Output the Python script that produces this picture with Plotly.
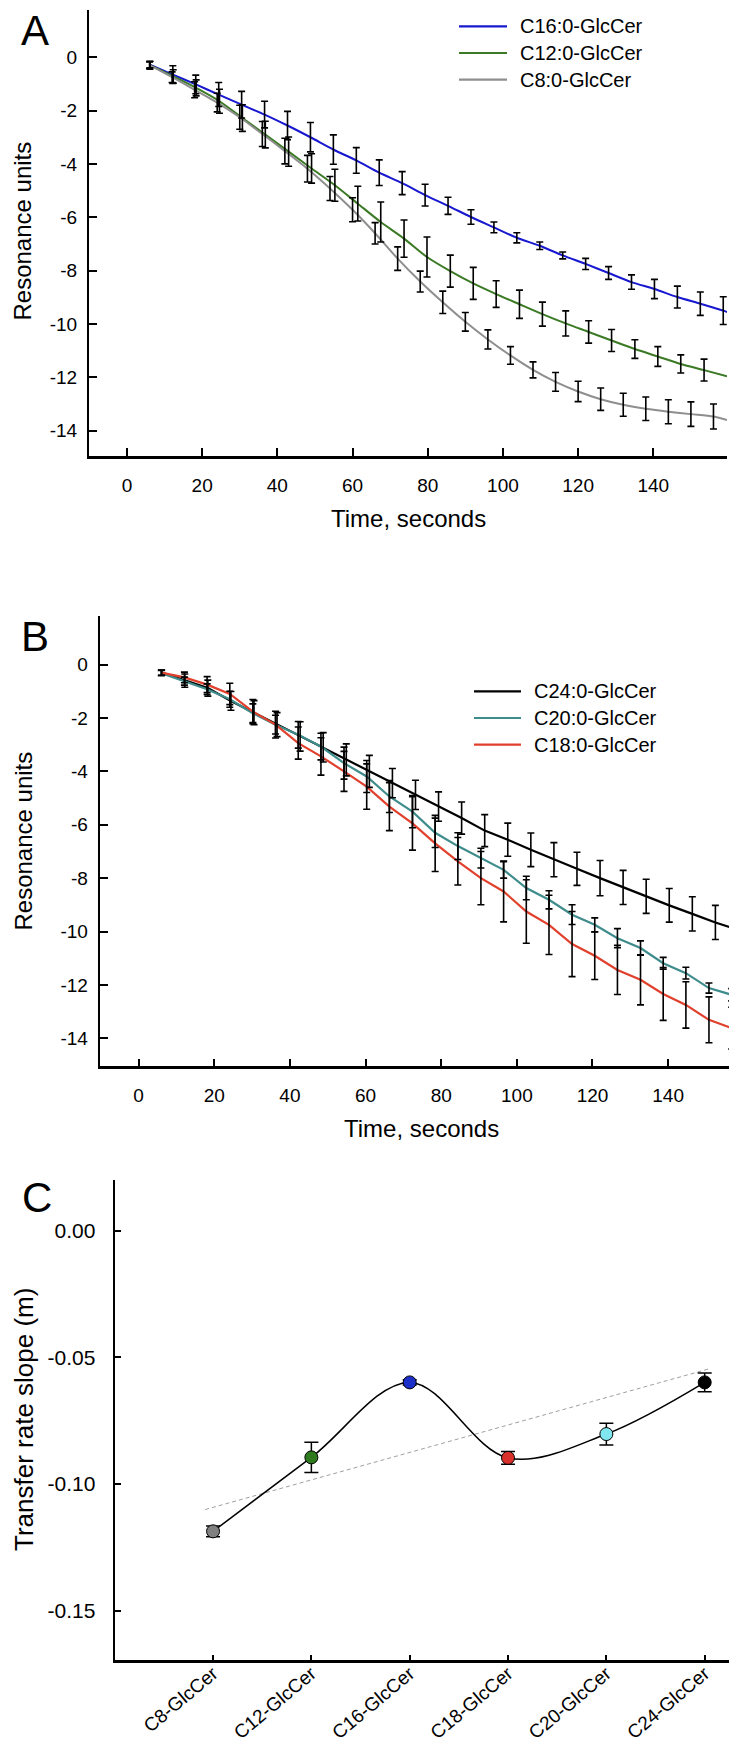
import plotly.graph_objects as go

W, H = 737, 1746
FONT = "Liberation Sans, Arial, sans-serif"

# ---------------- Panel A data ----------------
a_c16_t = [6.1, 12.2, 18.3, 24.4, 30.5, 36.6, 42.7, 48.8, 54.9, 61.0, 67.1, 73.2, 79.3,
           85.4, 91.5, 97.6, 103.7, 109.8, 115.9, 122.0, 128.1, 134.2, 140.3, 146.4, 152.5, 158.6]
a_c16_v = [-0.28, -0.65, -1.02, -1.40, -1.78, -2.15, -2.56, -3.00, -3.46, -3.87, -4.33, -4.72, -5.17,
           -5.57, -5.99, -6.38, -6.77, -7.07, -7.43, -7.75, -8.09, -8.43, -8.69, -8.99, -9.24, -9.50]
a_c16_e = [0.12, 0.33, 0.35, 0.45, 0.50, 0.50, 0.53, 0.55, 0.55, 0.48, 0.48, 0.43, 0.41,
           0.32, 0.27, 0.20, 0.19, 0.14, 0.13, 0.21, 0.24, 0.27, 0.36, 0.41, 0.44, 0.52]
a_c16_end = (159.6, -9.55)

a_c12_t = [6.1, 12.3, 18.4, 24.6, 30.7, 36.8, 43.0, 49.1, 55.3, 61.4, 67.5, 73.7, 79.8,
           86.0, 92.1, 98.2, 104.4, 110.5, 116.7, 122.8, 128.9, 135.1, 141.2, 147.3, 153.5]
a_c12_v = [-0.30, -0.72, -1.15, -1.65, -2.28, -2.90, -3.54, -4.17, -4.80, -5.49, -6.18, -6.80, -7.49,
           -8.02, -8.48, -8.88, -9.26, -9.63, -9.98, -10.30, -10.62, -10.94, -11.22, -11.50, -11.73]
a_c12_e = [0.15, 0.25, 0.30, 0.45, 0.50, 0.50, 0.55, 0.55, 0.60, 0.65, 0.75, 0.70, 0.75,
           0.60, 0.60, 0.50, 0.53, 0.45, 0.47, 0.42, 0.41, 0.35, 0.37, 0.34, 0.41]
a_c12_end = (159.6, -11.96)

a_c8_t = [6, 12, 18, 24, 30, 36, 42, 48, 54, 60, 66, 72, 78,
          84, 90, 96, 102, 108, 114, 120, 126, 132, 138, 144, 150, 156]
a_c8_v = [-0.30, -0.75, -1.22, -1.70, -2.25, -2.88, -3.52, -4.18, -4.92, -5.72, -6.60, -7.55, -8.41,
          -9.19, -9.92, -10.58, -11.18, -11.72, -12.17, -12.53, -12.82, -13.03, -13.18, -13.29, -13.38, -13.47]
a_c8_e = [0.12, 0.20, 0.30, 0.35, 0.45, 0.47, 0.48, 0.50, 0.45, 0.45, 0.40, 0.44, 0.39,
          0.42, 0.35, 0.36, 0.33, 0.30, 0.35, 0.38, 0.42, 0.43, 0.44, 0.45, 0.46, 0.47]
a_c8_end = (159.6, -13.60)

# ---------------- Panel B data ----------------
b_c24_t = [6.1, 12.2, 18.3, 24.4, 30.5, 36.6, 42.7, 48.8, 54.9, 61.0, 67.1, 73.2, 79.3,
           85.4, 91.5, 97.6, 103.7, 109.8, 115.9, 122.0, 128.1, 134.2, 140.3, 146.4, 152.5, 158.6]
b_c24_v = [-0.30, -0.60, -0.88, -1.36, -1.80, -2.25, -2.69, -3.10, -3.57, -4.00, -4.44, -4.88, -5.32,
           -5.75, -6.22, -6.56, -6.94, -7.31, -7.65, -8.00, -8.35, -8.68, -9.02, -9.34, -9.66, -9.94]
b_c24_e = [0.10, 0.25, 0.30, 0.35, 0.45, 0.45, 0.55, 0.55, 0.60, 0.60, 0.55, 0.55, 0.55,
           0.60, 0.60, 0.62, 0.63, 0.64, 0.62, 0.66, 0.64, 0.64, 0.63, 0.64, 0.64, 0.66]
b_c24_end = (159.8, -10.00)

b_c20_t = [6.0, 12.1, 18.1, 24.1, 30.2, 36.2, 42.2, 48.2, 54.3, 60.3, 66.3, 72.4, 78.4,
           84.4, 90.5, 96.5, 102.5, 108.5, 114.6, 120.6, 126.6, 132.7, 138.7, 144.7, 150.8, 156.8]
b_c20_v = [-0.32, -0.62, -0.92, -1.30, -1.82, -2.25, -2.63, -3.07, -3.69, -4.19, -4.94, -5.51, -6.30,
           -6.80, -7.25, -7.69, -8.37, -8.81, -9.37, -9.75, -10.25, -10.62, -11.19, -11.56, -12.12, -12.37]
b_c20_e = [0.10, 0.15, 0.20, 0.30, 0.35, 0.35, 0.50, 0.50, 0.60, 0.60, 0.60, 0.60, 0.55,
           0.50, 0.37, 0.31, 0.44, 0.34, 0.37, 0.26, 0.36, 0.27, 0.22, 0.22, 0.19, 0.23]
b_c20_end = (159.8, -12.56)

b_c18_t = b_c20_t
b_c18_v = [-0.30, -0.48, -0.75, -1.10, -1.76, -2.25, -2.94, -3.44, -4.00, -4.57, -5.32, -5.95, -6.70,
           -7.37, -8.00, -8.50, -9.25, -9.75, -10.47, -10.91, -11.44, -11.81, -12.34, -12.75, -13.31, -13.62]
b_c18_e = [0.10, 0.20, 0.30, 0.40, 0.45, 0.50, 0.60, 0.70, 0.75, 0.85, 0.90, 1.00, 1.05,
           0.89, 1.00, 1.14, 1.19, 1.11, 1.22, 0.89, 0.92, 0.94, 0.99, 0.87, 0.86, 0.78]
b_c18_end = (159.8, -13.81)

# ---------------- Panel C data ----------------
c_cats = ["C8-GlcCer", "C12-GlcCer", "C16-GlcCer", "C18-GlcCer", "C20-GlcCer", "C24-GlcCer"]
c_vals = [-0.1187, -0.0895, -0.0599, -0.0897, -0.0803, -0.0599]
c_errs = [0.0021, 0.0060, 0.0010, 0.0025, 0.0043, 0.0037]
c_colors = ["#808080", "#2f7a1e", "#1c2fc8", "#d8302a", "#80e6f0", "#000000"]
c_trend_x = [-0.08, 5.05]
c_trend_y = [-0.1101, -0.0545]

# tick labels
t_ticks = [0, 20, 40, 60, 80, 100, 120, 140]
ru_ticks = [0, -2, -4, -6, -8, -10, -12, -14]
c_yticks = [0.0, -0.05, -0.10, -0.15]
c_yticktext = ["0.00", "-0.05", "-0.10", "-0.15"]

# legend entries (name, colour key)
a_legend = [("C16:0-GlcCer", "C16"), ("C12:0-GlcCer", "C12"), ("C8:0-GlcCer", "C8")]
b_legend = [("C24:0-GlcCer", "C24"), ("C20:0-GlcCer", "C20"), ("C18:0-GlcCer", "C18")]

COL = {"C16": "#1818d0", "C12": "#3b7a25", "C8": "#8e8e8e",
       "C24": "#000000", "C20": "#3f8c8c", "C18": "#e0402c"}

fig = go.Figure()


def add_series(t, v, end, color, name, xa, ya, shape, lw):
    fig.add_trace(go.Scatter(x=list(t) + [end[0]], y=list(v) + [end[1]], mode="lines",
                             line=dict(color=color, width=lw, shape=shape, smoothing=0.8),
                             name=name, showlegend=False, xaxis=xa, yaxis=ya))


def add_err(t, v, e, xa, ya):
    fig.add_trace(go.Scatter(x=t, y=v, mode="markers",
                             marker=dict(size=2, color="rgba(0,0,0,0)"),
                             error_y=dict(type="data", array=e, color="black", thickness=1.6, width=3.5),
                             showlegend=False, hoverinfo="skip", xaxis=xa, yaxis=ya))


# Panel A
add_series(a_c16_t, a_c16_v, a_c16_end, COL["C16"], "C16:0-GlcCer", "x", "y", "spline", 2)
add_series(a_c12_t, a_c12_v, a_c12_end, COL["C12"], "C12:0-GlcCer", "x", "y", "spline", 2)
add_series(a_c8_t, a_c8_v, a_c8_end, COL["C8"], "C8:0-GlcCer", "x", "y", "spline", 2)
add_err(a_c8_t, a_c8_v, a_c8_e, "x", "y")
add_err(a_c12_t, a_c12_v, a_c12_e, "x", "y")
add_err(a_c16_t, a_c16_v, a_c16_e, "x", "y")

# Panel B
add_series(b_c24_t, b_c24_v, b_c24_end, COL["C24"], "C24:0-GlcCer", "x2", "y2", "linear", 2.2)
add_series(b_c20_t, b_c20_v, b_c20_end, COL["C20"], "C20:0-GlcCer", "x2", "y2", "linear", 2.2)
add_series(b_c18_t, b_c18_v, b_c18_end, COL["C18"], "C18:0-GlcCer", "x2", "y2", "linear", 2.2)
add_err(b_c18_t, b_c18_v, b_c18_e, "x2", "y2")
add_err(b_c20_t, b_c20_v, b_c20_e, "x2", "y2")
add_err(b_c24_t, b_c24_v, b_c24_e, "x2", "y2")

# Panel C
cx = list(range(len(c_cats)))
fig.add_trace(go.Scatter(x=c_trend_x, y=c_trend_y, mode="lines",
                         line=dict(color="#a0a0a0", width=1, dash="4px,3px"),
                         showlegend=False, xaxis="x3", yaxis="y3"))
fig.add_trace(go.Scatter(x=cx, y=c_vals, mode="lines",
                         line=dict(color="black", width=1.5, shape="spline", smoothing=1.0),
                         showlegend=False, xaxis="x3", yaxis="y3"))
fig.add_trace(go.Scatter(x=cx, y=c_vals, mode="markers",
                         marker=dict(size=13, color=c_colors, line=dict(color="black", width=1)),
                         error_y=dict(type="data", array=c_errs, color="black", thickness=1.5, width=7),
                         showlegend=False, xaxis="x3", yaxis="y3"))


def px_x(p):
    return p / W


def px_y(p):
    return 1 - p / H


axis_common = dict(showline=True, linecolor="black", showgrid=False, zeroline=False,
                   ticks="inside", tickcolor="black", mirror=False,
                   tickfont=dict(family=FONT, size=19, color="black"))

fig.update_layout(
    width=W, height=H, margin=dict(l=0, r=0, t=0, b=0, autoexpand=False),
    paper_bgcolor="white", plot_bgcolor="white",
    font=dict(family=FONT, color="black"),
    showlegend=False,
    xaxis=dict(domain=[px_x(81), px_x(719)], range=[-10.1, 159.6], anchor="y",
               tickvals=t_ticks, ticktext=[str(v) for v in t_ticks],
               linewidth=2.5, ticklen=8, tickwidth=2, ticklabelstandoff=10, **axis_common),
    yaxis=dict(domain=[px_y(448), px_y(2)], range=[-14.95, 1.77], anchor="x",
               tickvals=ru_ticks, ticktext=[str(v) for v in ru_ticks],
               linewidth=2, ticklen=8, tickwidth=2, ticklabelstandoff=6, **axis_common),
    xaxis2=dict(domain=[px_x(91.7), px_x(735)], range=[-10.3, 159.8], anchor="y2",
                tickvals=t_ticks, ticktext=[str(v) for v in t_ticks],
                linewidth=2.5, ticklen=8, tickwidth=2, ticklabelstandoff=10, **axis_common),
    yaxis2=dict(domain=[px_y(1058.3), px_y(608.3)], range=[-15.05, 1.81], anchor="x2",
                tickvals=ru_ticks, ticktext=[str(v) for v in ru_ticks],
                linewidth=2, ticklen=8, tickwidth=2, ticklabelstandoff=6, **axis_common),
    xaxis3=dict(domain=[px_x(107.3), 1.0], range=[-0.994, 5.41], anchor="y3",
                tickvals=cx, ticktext=c_cats, tickangle=-40,
                linewidth=2.5, ticklen=6, tickwidth=1.5, ticklabelstandoff=-8,
                **{**axis_common, "tickfont": dict(family=FONT, size=19, color="black")}),
    yaxis3=dict(domain=[px_y(1652.3), px_y(1171.7)], range=[-0.1696, 0.0201], anchor="x3",
                tickvals=c_yticks, ticktext=c_yticktext,
                linewidth=1.5, ticklen=6, tickwidth=1.5, ticklabelstandoff=14,
                **{**axis_common, "tickfont": dict(family=FONT, size=21, color="black")}),
)

ann = []
shapes = []


def legend_block(entries, x_line0, x_line1, x_text, y_rows):
    for (name, key), yr in zip(entries, y_rows):
        shapes.append(dict(type="line", xref="paper", yref="paper",
                           x0=px_x(x_line0), x1=px_x(x_line1), y0=px_y(yr), y1=px_y(yr),
                           line=dict(color=COL[key], width=2.2)))
        ann.append(dict(text=name, x=px_x(x_text), y=px_y(yr), xref="paper", yref="paper",
                        xanchor="left", yanchor="middle", showarrow=False,
                        font=dict(family=FONT, size=20, color="black")))


legend_block(a_legend, 451, 499, 510, [18.3, 45.0, 71.7])
legend_block(b_legend, 466, 513, 524, [683.3, 710.0, 736.7])

for letter, cxp, cyp in [("A", 27, 23), ("B", 27.5, 628), ("C", 29, 1189)]:
    ann.append(dict(text=letter, x=px_x(cxp), y=px_y(cyp), xref="paper", yref="paper",
                    xanchor="center", yanchor="middle", showarrow=False,
                    font=dict(family=FONT, size=42, color="black")))
ann.append(dict(text="Time, seconds", x=px_x(400), y=px_y(510), xref="paper", yref="paper",
                xanchor="center", yanchor="middle", showarrow=False,
                font=dict(family=FONT, size=24, color="black")))
ann.append(dict(text="Time, seconds", x=px_x(413), y=px_y(1120), xref="paper", yref="paper",
                xanchor="center", yanchor="middle", showarrow=False,
                font=dict(family=FONT, size=24, color="black")))
ann.append(dict(text="Resonance units", x=px_x(14.5), y=px_y(223), xref="paper", yref="paper",
                xanchor="center", yanchor="middle", showarrow=False, textangle=-90,
                font=dict(family=FONT, size=24, color="black")))
ann.append(dict(text="Resonance units", x=px_x(14.5), y=px_y(833), xref="paper", yref="paper",
                xanchor="center", yanchor="middle", showarrow=False, textangle=-90,
                font=dict(family=FONT, size=24, color="black")))
ann.append(dict(text="Transfer rate slope (m)", x=px_x(16), y=px_y(1412), xref="paper", yref="paper",
                xanchor="center", yanchor="middle", showarrow=False, textangle=-90,
                font=dict(family=FONT, size=26, color="black")))
fig.update_layout(annotations=ann, shapes=shapes)

fig.write_html("out.html")
